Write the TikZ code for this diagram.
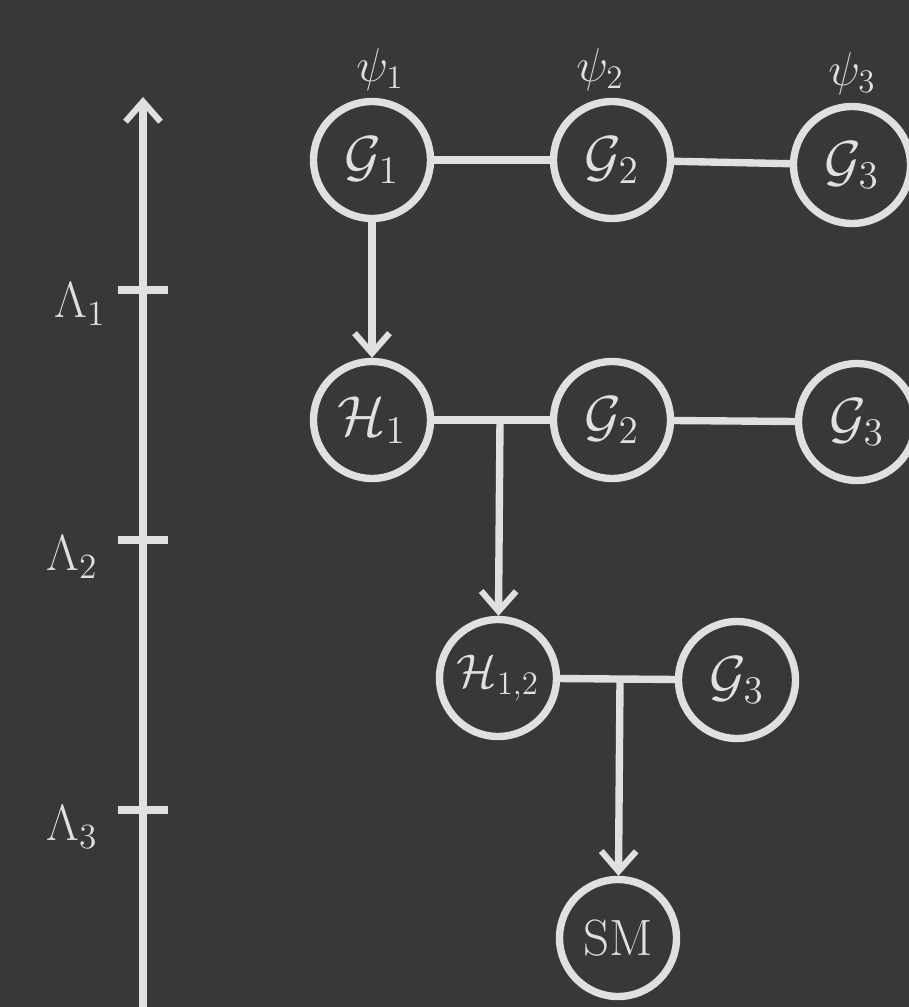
\documentclass[tikz,border=0pt]{standalone}
\usepackage{amsmath}
\usepackage{graphicx}
\usetikzlibrary{arrows.meta}
\definecolor{board}{RGB}{56,56,56}
\definecolor{chalk}{RGB}{224,224,224}
\newcommand{\bigchalk}[2][1.55]{\scalebox{#1}{#2}}
\begin{document}
\begin{tikzpicture}[x=0.02cm,y=-0.02cm]
\tikzset{
  ball/.style={circle, draw=chalk, line width=4.2pt, minimum size=2.34cm, inner sep=0pt, text=chalk, font=\huge},
  link/.style={draw=chalk, line width=4.2pt, line cap=round},
  arr/.style={link, -{Straight Barb[length=0.4cm,width=0.7cm,line width=3.5pt]}},
  lab/.style={text=chalk, font=\huge, inner sep=0pt},
  tick/.style={draw=chalk, line width=4.2pt}
}
\useasboundingbox (0,0) rectangle (909,1007);
\clip (0,0) rectangle (909,1007);
\fill[board] (0,0) rectangle (909,1007);

% row 1
\node[ball] (g1) at (372,160) {\bigchalk{$\mathcal{G}_1$}};
\node[ball] (g2) at (612,160) {\bigchalk{$\mathcal{G}_2$}};
\node[ball] (g3) at (852,165) {\bigchalk{$\mathcal{G}_3$}};
\node[lab] (p1) at (380,70) {\bigchalk[1.3]{$\psi_1$}};
\node[lab] (p2) at (600,70) {\bigchalk[1.3]{$\psi_2$}};
\node[lab] (p3) at (852,74) {\bigchalk[1.3]{$\psi_3$}};
\draw[link] (g1) -- (g2);
\draw[link] (g2) -- (g3);

% row 2
\node[ball] (h1) at (372,420) {\bigchalk{$\mathcal{H}_1$}};
\node[ball] (g2b) at (612,420) {\bigchalk{$\mathcal{G}_2$}};
\node[ball] (g3b) at (857,422) {\bigchalk{$\mathcal{G}_3$}};
\draw[arr] (g1) -- (h1);
\draw[link] (h1) -- (g2b);
\draw[link] (g2b) -- (g3b);
\coordinate (j1) at (500,420);

% row 3
\node[ball] (h12) at (498,678) {\bigchalk[1.3]{$\mathcal{H}_{1,2}$}};
\node[ball] (g3c) at (737,680) {\bigchalk{$\mathcal{G}_3$}};
\draw[arr] (j1) -- (h12);
\draw[link] (h12) -- (g3c);
\coordinate (j2) at (620,681);

% row 4
\node[ball] (sm) at (618,938) {\bigchalk[1.4]{$\mathrm{SM}$}};
\draw[arr] (j2) -- (sm);

% axis
\coordinate (axb) at (143,1010);
\coordinate (axt) at (143,97);
\draw[arr] (axb) -- (axt);
\coordinate (t1) at (143,290);
\coordinate (t2) at (143,540);
\coordinate (t3) at (143,810);
\draw[tick] (t1) ++(-25,0) -- ++(50,0);
\draw[tick] (t2) ++(-25,0) -- ++(50,0);
\draw[tick] (t3) ++(-25,0) -- ++(50,0);
\node[lab] (l1) at (80,304) {\bigchalk[1.4]{$\Lambda_1$}};
\node[lab] (l2) at (72,557) {\bigchalk[1.4]{$\Lambda_2$}};
\node[lab] (l3) at (72,827) {\bigchalk[1.4]{$\Lambda_3$}};
\end{tikzpicture}
\end{document}
